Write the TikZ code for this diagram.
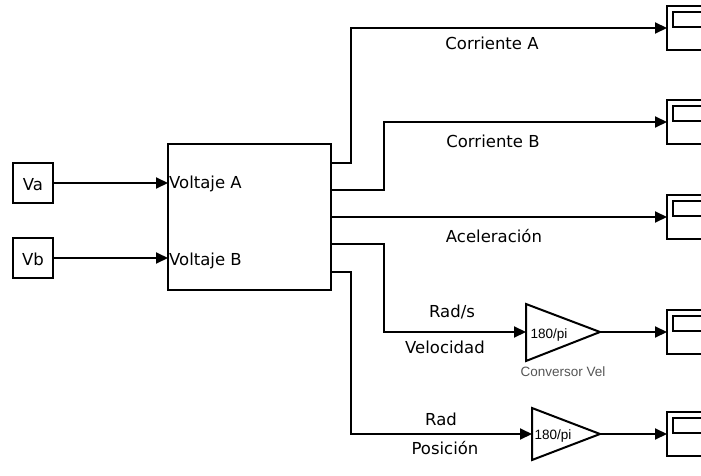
\documentclass[tikz,border=0pt]{standalone}
\usepackage{fontspec}
\setmainfont{DejaVu Sans}
\newfontfamily\arialf{Liberation Sans}
\usetikzlibrary{arrows.meta}
\definecolor{labgray}{RGB}{85,85,85}
\begin{document}
\begin{tikzpicture}[x=1pt,y=-1pt,
  wire/.style={line width=2pt},
  arr/.style={wire,-{Triangle[length=12pt,width=11pt]}},
  blk/.style={draw,line width=2pt,inner sep=0pt,outer sep=0pt,anchor=north west},
  lab/.style={font=\fontsize{16.5}{19}\selectfont,anchor=base,inner sep=0pt},
  glab/.style={font=\arialf\fontsize{13.5}{16}\selectfont,anchor=base,inner sep=0pt}]
\clip (0,0) rectangle (701,476);
% sources
\node[blk,minimum width=40pt,minimum height=40pt] (va) at (13,163) {};
\node[lab] (vat) at (33,190) {Va};
\node[blk,minimum width=40pt,minimum height=40pt] (vb) at (13,238) {};
\node[lab] (vbt) at (33,265) {Vb};
% main block
\node[blk,minimum width=163pt,minimum height=146pt] (sys) at (168,144) {};
\node[lab,anchor=base west] (ina) at (169,188) {Voltaje A};
\node[lab,anchor=base west] (inb) at (169,265) {Voltaje B};
\draw[arr] (va.east) -- (sys.west |- va.east);
\draw[arr] (vb.east) -- (sys.west |- vb.east);
% output ports
\coordinate (o1) at (331,163);
\coordinate (o2) at (331,190);
\coordinate (o3) at (331,217);
\coordinate (o4) at (331,244);
\coordinate (o5) at (331,272);
% scopes
\foreach \n/\t in {s1/6,s2/100,s3/195,s4/310,s5/412}{
  \node[blk,minimum width=60pt,minimum height=44pt] (\n) at (667,\t) {};
  \draw[line width=2pt] (673,\t+6) rectangle (730,\t+21);
}
% gains
\coordinate (g1in) at (526,332);
\coordinate (g1out) at (600,332);
\draw[line width=2pt] (526,304) -- (g1out) -- (526,361) -- cycle;
\node[glab] (g1t) at (549,338) {180/pi};
\node[glab,text=labgray] (g1n) at (563,376) {Conversor Vel};
\coordinate (g2in) at (532,434);
\coordinate (g2out) at (600,434);
\draw[line width=2pt] (532,408) -- (g2out) -- (532,460) -- cycle;
\node[glab] (g2t) at (553,439) {180/pi};
% connectors
\draw[arr] (o1) -- (351,163) -- (351,28) -- (s1.west);
\draw[arr] (o2) -- (384,190) -- (384,122) -- (s2.west);
\draw[arr] (o3) -- (s3.west);
\draw[arr] (o4) -- (384,244) -- (384,332) -- (g1in);
\draw[arr] (o5) -- (351,272) -- (351,434) -- (g2in);
\draw[arr] (g1out) -- (s4.west);
\draw[arr] (g2out) -- (s5.west);
% labels
\node[lab] (la) at (492,50) {Corriente A};
\node[lab] (lb) at (493,147) {Corriente B};
\node[lab] (lc) at (494,242) {Aceleración};
\node[lab] (ld) at (452,317) {Rad/s};
\node[lab] (le) at (445,353) {Velocidad};
\node[lab] (lf) at (441,425) {Rad};
\node[lab] (lg) at (445,454) {Posición};
\end{tikzpicture}
\end{document}
